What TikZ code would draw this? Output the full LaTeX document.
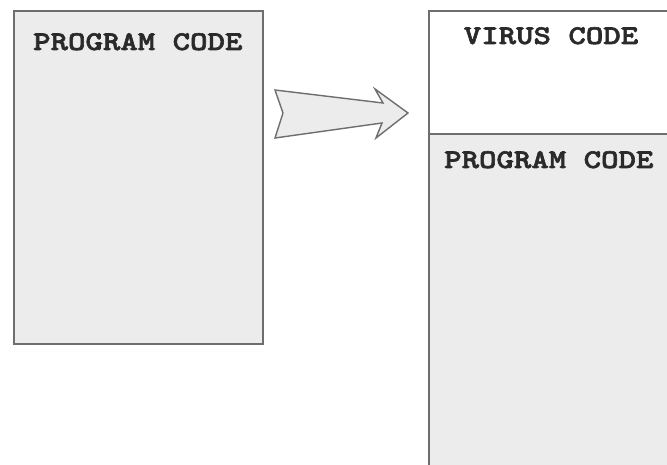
\documentclass[tikz,border=0pt]{standalone}
\usepackage{fontspec}
% heavy slab-serif typewriter face, widened to typewriter proportions
\newfontfamily\codefont{lmmonolt10-bold}[Extension=.otf,FakeStretch=1.23,FakeBold=2.2]
\definecolor{edge}{HTML}{6E6E6E}
\definecolor{paper}{HTML}{ECECEC}
\definecolor{ink}{HTML}{2A2A2A}
\begin{document}
\begin{tikzpicture}[x=1pt,y=-1pt,
  panel/.style={draw=edge,line width=1.6pt,fill=paper,inner sep=0pt,anchor=north west},
  codelabel/.style={font=\codefont\fontsize{27}{27}\selectfont,text=ink,inner sep=0pt},
  bigarrow/.style={draw=edge,line width=1.4pt,fill=paper,line join=miter}]
\useasboundingbox (0,0) rectangle (667,465);
\clip (0,0) rectangle (667,465);
\fill[white] (0,0) rectangle (667,465);

% original program
\node[panel,minimum width=249pt,minimum height=333pt] (host) at (13,10) {};
\node[codelabel,anchor=base west] (hostlabel) at (33,50) {PROGRAM CODE};

% infected program: virus code prepended to the program code
\node[panel,minimum width=260pt,minimum height=470pt] (infected) at (428,10) {};
\node[panel,fill=white,minimum width=260pt,minimum height=123pt] (virus) at (428,10) {};
\node[codelabel,anchor=base] (viruslabel) at (551,44) {VIRUS CODE};
\node[codelabel,anchor=base west] (infectedlabel) at (444,168) {PROGRAM CODE};

% notched block arrow
\draw[bigarrow] (275,90) -- (383,103) -- (375,89) -- (408,113) -- (376,138)
  -- (382,123) -- (275,138) -- (283,113) -- cycle;
\end{tikzpicture}
\end{document}
